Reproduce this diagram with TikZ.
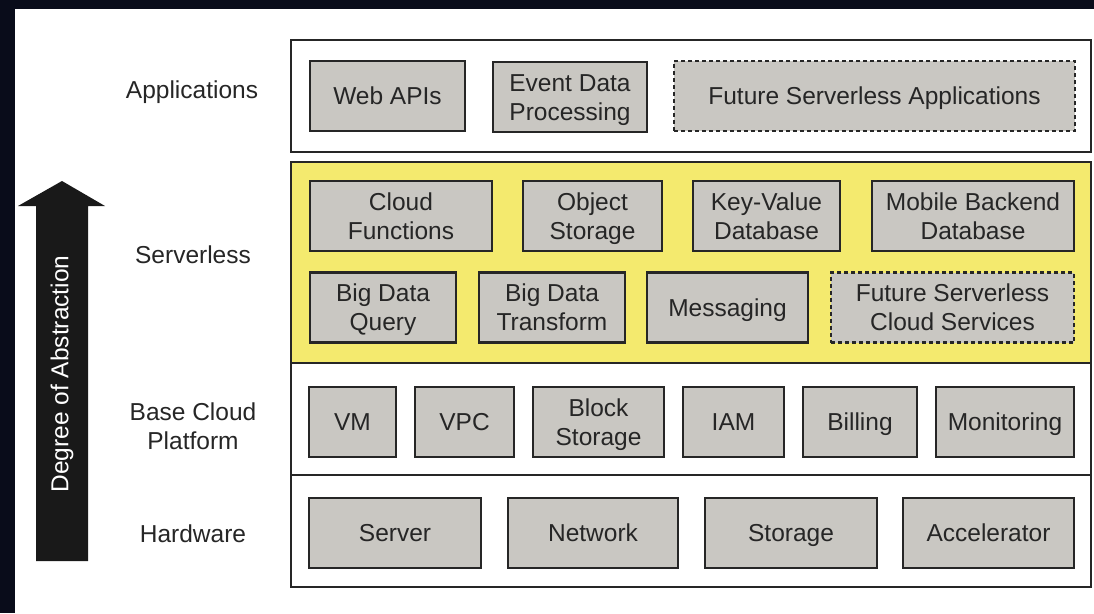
\documentclass[tikz,border=0pt]{standalone}
\usepackage{fontspec}
\setmainfont{Liberation Sans}
\usepackage{tikz}
\usetikzlibrary{positioning}

\definecolor{nightbg}{HTML}{090C1A}
\definecolor{boxgray}{HTML}{C9C7C2}
\definecolor{layeryellow}{HTML}{F4EA6E}
\definecolor{inkgray}{HTML}{262626}

\begin{document}
\begin{tikzpicture}[x=1pt,y=-1pt,
	layer/.style={rectangle, draw=inkgray, line width=1.8pt, fill=white},
	svc/.style={rectangle, draw=inkgray, line width=2.2pt, fill=boxgray, align=center, inner sep=0pt, text=inkgray, minimum height=70pt, text height=19pt, text depth=1.5pt},
	twoline/.style={text height=48pt, text depth=1.5pt},
	future/.style={svc, dashed, dash pattern=on 4pt off 3pt},
	tag/.style={align=center, text=inkgray}]
	\useasboundingbox (0,0) rectangle (1094,613);
	\fill[nightbg] (0,0) rectangle (1094,613);
	\fill[white] (15,9) rectangle (1094,613);
	\fontsize{24.5}{29}\selectfont
	% layers
	\draw[layer] (291,40) rectangle (1091,152);
	\draw[layer, fill=layeryellow] (291,162) rectangle (1091,363);
	\draw[layer] (291,363) rectangle (1091,475);
	\draw[layer] (291,475) rectangle (1091,587);
	% layer names
	\node[tag](app) at (192,92) {Applications};
	\node[tag](sls) at (193,255) {Serverless};
	\node[tag](base) at (193,426) {Base Cloud\\Platform};
	\node[tag](hw) at (193,534) {Hardware};
	% applications
	\node[svc, minimum width=155pt](1) at (387.5,96) {Web APIs};
	\node[svc, twoline, minimum width=154pt](2) at (570,97) {Event Data\\Processing};
	\node[future, minimum width=401pt](3) at (874.5,96) {Future Serverless Applications};
	% serverless
	\node[svc, twoline, minimum width=182pt](4) at (401,216) {Cloud\\Functions};
	\node[svc, twoline, minimum width=139pt](5) at (592.5,216) {Object\\Storage};
	\node[svc, twoline, minimum width=147pt](6) at (766.5,216) {Key-Value\\Database};
	\node[svc, twoline, minimum width=202pt](7) at (973,216) {Mobile Backend\\Database};
	\node[svc, twoline, minimum width=146pt](8) at (383,307.5) {Big Data\\Query};
	\node[svc, twoline, minimum width=146pt](9) at (552,307.5) {Big Data\\Transform};
	\node[svc, minimum width=161pt](10) at (727.5,307.5) {Messaging};
	\node[future, twoline, minimum width=243pt](11) at (952.5,307.5) {Future Serverless\\Cloud Services};
	% base cloud platform
	\node[svc, minimum width=87pt](12) at (352.5,422) {VM};
	\node[svc, minimum width=99pt](13) at (464.5,422) {VPC};
	\node[svc, twoline, minimum width=131pt](14) at (598.5,422) {Block\\Storage};
	\node[svc, minimum width=101pt](15) at (733.5,422) {IAM};
	\node[svc, minimum width=114pt](16) at (860,422) {Billing};
	\node[svc, minimum width=138pt](17) at (1005,422) {Monitoring};
	% hardware
	\node[svc, minimum width=172pt](18) at (395,533) {Server};
	\node[svc, minimum width=170pt](19) at (593,533) {Network};
	\node[svc, minimum width=172pt](20) at (791,533) {Storage};
	\node[svc, minimum width=171pt](21) at (988.5,533) {Accelerator};
	% abstraction arrow
	\fill[black!90] (36,561) -- (36,206) -- (18,206) -- (62,181) -- (105,206) -- (88,206) -- (88,561) -- cycle;
	\node[text=white, rotate=90](abs) at (62,374) {Degree of Abstraction};
\end{tikzpicture}
\end{document}
